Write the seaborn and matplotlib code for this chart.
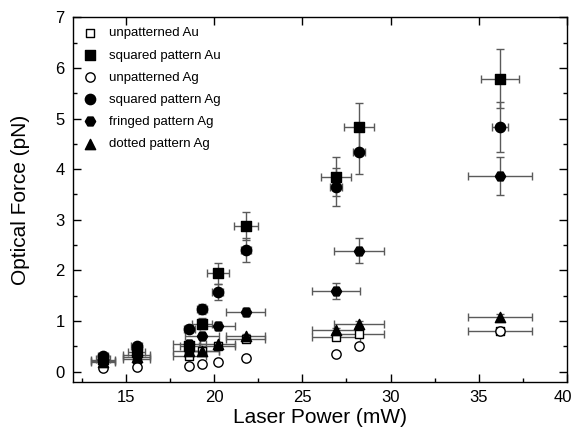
import numpy as np
import pandas as pd
import seaborn as sns
import matplotlib
matplotlib.use("Agg")
import matplotlib.pyplot as plt
import matplotlib.transforms as mtransforms
from matplotlib.ticker import MultipleLocator

sns.set_style("ticks")
plt.rcParams['font.family'] = ['Liberation Sans', 'DejaVu Sans']
plt.rcParams.update({"text.color": "black", "axes.labelcolor": "black",
                     "xtick.color": "black", "ytick.color": "black"})

power = [13.7, 15.6, 18.6, 19.3, 20.2, 21.8, 26.9, 28.2, 36.2]

unpat_au = [0.20, 0.25, 0.30, 0.40, 0.50, 0.65, 0.68, 0.74, 0.80]
unpat_au_yerr = [0.03, 0.03, 0.03, 0.04, 0.04, 0.05, 0.05, 0.05, 0.06]
unpat_au_xerr = [0.67, 0.78, 0.93, 0.97, 1.01, 1.10, 1.34, 1.41, 1.80]

sq_au = [0.25, 0.38, 0.50, 0.95, 1.94, 2.88, 3.85, 4.83, 5.79]
sq_au_yerr = [0.04, 0.05, 0.06, 0.10, 0.20, 0.28, 0.39, 0.47, 0.58]
sq_au_xerr = [0.40, 0.47, 0.56, 0.58, 0.62, 0.67, 0.85, 0.86, 1.08]

unpat_ag = [0.08, 0.10, 0.12, 0.15, 0.18, 0.26, 0.35, 0.50, 0.80]
unpat_ag_yerr = [0.02, 0.02, 0.02, 0.02, 0.02, 0.03, 0.03, 0.04, 0.05]
unpat_ag_xerr = [0.0, 0.0, 0.0, 0.0, 0.0, 0.0, 0.0, 0.0, 0.0]

sq_ag = [0.30, 0.50, 0.85, 1.23, 1.58, 2.40, 3.65, 4.33, 4.83]
sq_ag_yerr = [0.04, 0.05, 0.07, 0.10, 0.16, 0.24, 0.37, 0.43, 0.49]
sq_ag_xerr = [0.30, 0.30, 0.30, 0.30, 0.30, 0.30, 0.35, 0.35, 0.45]

fr_ag = [0.22, 0.33, 0.55, 0.70, 0.90, 1.18, 1.59, 2.39, 3.86]
fr_ag_yerr = [0.04, 0.04, 0.05, 0.06, 0.07, 0.08, 0.16, 0.24, 0.38]
fr_ag_xerr = [0.67, 0.78, 0.93, 0.97, 1.01, 1.10, 1.34, 1.41, 1.80]

dot_ag = [0.18, 0.28, 0.40, 0.40, 0.54, 0.70, 0.82, 0.95, 1.07]
dot_ag_yerr = [0.03, 0.03, 0.04, 0.04, 0.04, 0.05, 0.05, 0.05, 0.07]
dot_ag_xerr = [0.67, 0.78, 0.93, 0.97, 1.01, 1.10, 1.34, 1.41, 1.80]

series = [
    ("unpatterned Au", unpat_au, unpat_au_yerr, unpat_au_xerr, "s", False, 38),
    ("squared pattern Au", sq_au, sq_au_yerr, sq_au_xerr, "s", True, 42),
    ("unpatterned Ag", unpat_ag, unpat_ag_yerr, unpat_ag_xerr, "o", False, 45),
    ("squared pattern Ag", sq_ag, sq_ag_yerr, sq_ag_xerr, "o", True, 55),
    ("fringed pattern Ag", fr_ag, fr_ag_yerr, fr_ag_xerr, "H", True, 55),
    ("dotted pattern Ag", dot_ag, dot_ag_yerr, dot_ag_xerr, "^", True, 55),
]

fig = plt.figure(figsize=(5.75, 4.38), dpi=100)
ax = fig.add_axes([0.127, 0.1285, 0.859, 0.832])

for name, y, yerr, xerr, m, filled, sz in series:
    ax.errorbar(power, y, yerr=yerr, xerr=xerr, fmt="none", ecolor="#5a5a5a",
                elinewidth=1.0, capsize=3, capthick=1.0, zorder=1)

for name, y, yerr, xerr, m, filled, sz in series:
    df = pd.DataFrame({"power": power, "force": y})
    sns.scatterplot(data=df, x="power", y="force", ax=ax, marker=m, s=sz,
                    color="black" if filled else "white",
                    edgecolor="black", linewidth=1.0, label=name, zorder=3)

ax.set_xlim(12, 40)
ax.set_ylim(-0.2, 7)
ax.xaxis.set_major_locator(MultipleLocator(5))
ax.xaxis.set_minor_locator(MultipleLocator(2.5))
ax.yaxis.set_major_locator(MultipleLocator(1))
ax.yaxis.set_minor_locator(MultipleLocator(0.5))
ax.tick_params(which="major", direction="in", length=6, width=1, labelsize=12,
               top=True, right=True, pad=6, colors="black")
ax.tick_params(which="minor", direction="in", length=3, width=1,
               top=False, right=True, colors="black")
for s in ax.spines.values():
    s.set_linewidth(1.0)
    s.set_color("black")

ax.set_xlabel("Laser Power (mW)", fontsize=15, labelpad=2, color="black")
ax.set_ylabel("Optical Force (pN)", fontsize=15, labelpad=18, color="black")

fig.canvas.draw()
off = mtransforms.ScaledTranslation(-4 / 100, 0, fig.dpi_scale_trans)
for lab in ax.get_xticklabels():
    if lab.get_text() == "40":
        lab.set_transform(lab.get_transform() + off)

leg = ax.legend(loc="upper left", frameon=False, fontsize=9.5, handletextpad=1.0,
                borderaxespad=0.45, labelspacing=0.75, handlelength=1.0,
                borderpad=0.3, labelcolor="black")

fig.savefig("out.png", dpi=100)
